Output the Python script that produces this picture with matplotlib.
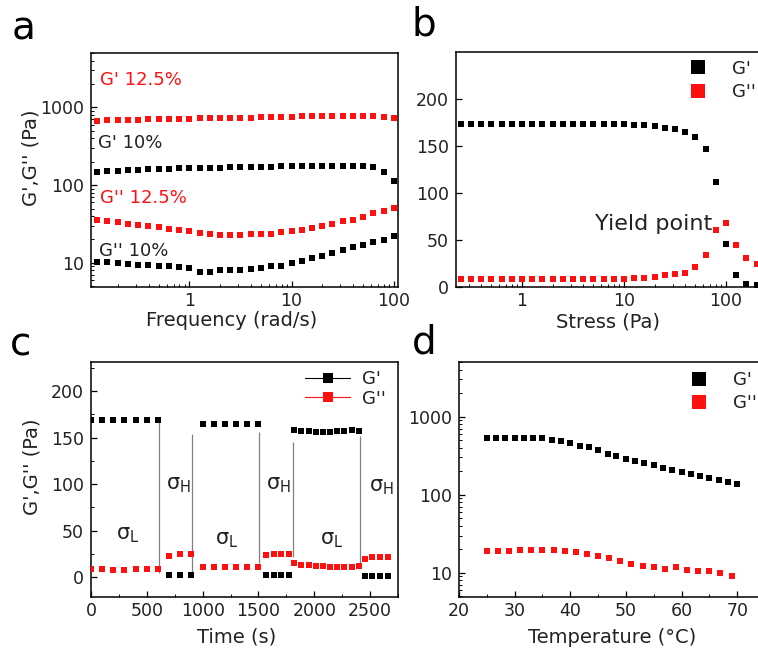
import matplotlib
matplotlib.use("Agg")
import matplotlib.pyplot as plt
from matplotlib.lines import Line2D
from matplotlib.ticker import LogLocator, NullFormatter, FuncFormatter, MultipleLocator

# ---- panel a: frequency sweep (10 % and 12.5 % gels) ----
freq = [0.126, 0.158, 0.2, 0.251, 0.316, 0.398, 0.501, 0.631, 0.794, 1.0,
        1.26, 1.58, 2.0, 2.51, 3.16, 3.98, 5.01, 6.31, 7.94, 10.0,
        12.6, 15.8, 20.0, 25.1, 31.6, 39.8, 50.1, 63.1, 79.4, 100.0]
gp_125 = [675, 680, 685, 690, 695, 700, 705, 708, 712, 716,
          720, 725, 728, 732, 736, 740, 745, 750, 755, 760,
          765, 770, 772, 775, 775, 775, 772, 768, 760, 735]
gp_10 = [149, 151, 153, 155, 157, 159, 161, 163, 164, 165,
         166, 167, 168, 169, 170, 171, 172, 173, 174, 176,
         177, 178, 178, 178, 178, 177, 175, 170, 146, 114]
gpp_125 = [36, 35, 33.5, 32, 31, 29.7, 28.8, 27.4, 26.7, 26,
           24.3, 23.6, 23.1, 23, 23, 23.5, 23.8, 23.8, 24.8, 25.5,
           26.3, 27.7, 29.7, 32.1, 34.3, 36.1, 39.2, 43.3, 46.3, 50.2]
gpp_10 = [10.4, 10.2, 9.9, 9.7, 9.5, 9.3, 9.1, 9.0, 8.8, 8.6,
          7.7, 7.6, 8.2, 8.2, 8.1, 8.3, 8.6, 9.0, 9.1, 9.9,
          10.6, 11.5, 12.3, 13.4, 14.5, 16.0, 17.1, 18.4, 19.9, 22.0]

# ---- panel b: stress sweep ----
stress = [0.251, 0.316, 0.398, 0.501, 0.631, 0.794, 1.0, 1.26, 1.58, 2.0,
          2.51, 3.16, 3.98, 5.01, 6.31, 7.94, 10.0, 12.6, 15.8, 20.0,
          25.1, 31.6, 39.8, 50.1, 63.1, 79.4, 100.0, 126, 158, 200]
gp_stress = [173, 173, 173, 173, 173, 173, 173, 173, 173, 173,
             173, 173, 173, 173, 173, 173, 173, 172.5, 172, 171,
             169, 168, 165, 160, 147, 112, 46, 13, 3, 2]
gpp_stress = [8.5, 8.5, 8.5, 8.5, 8.5, 8.5, 8.5, 9, 8.5, 8.5,
              8.5, 8.5, 8.5, 8.5, 8.5, 8.5, 9, 10, 10, 11,
              12.5, 13.5, 15, 21, 34, 61, 68, 45, 31, 24]

# ---- panel c: step strain recovery ----
t_step = [0, 100, 200, 300, 400, 500, 600,
          700, 800, 900,
          1000, 1100, 1200, 1300, 1400, 1500,
          1565, 1635, 1705, 1775,
          1820, 1885, 1950, 2015, 2080, 2140, 2205, 2270, 2335, 2400,
          2450, 2520, 2590, 2660]
gp_step = [169, 169, 169, 169, 169, 169, 169,
           2.5, 3, 3,
           164, 164, 164, 164, 165, 164,
           3, 3, 3, 3,
           158, 157, 157, 156, 156, 156, 157, 157, 158, 157,
           2, 2, 2, 2]
gpp_step = [8.6, 8.6, 7.5, 8, 8.6, 8.6, 9.5,
            23, 25, 25,
            11.5, 11.5, 11.5, 11.5, 11.5, 11.5,
            24, 25.5, 25.5, 25,
            15, 13.5, 13, 12.5, 12.5, 11.5, 11.5, 11.5, 11.5, 12.5,
            19.5, 22, 22, 21.5]
switch_t = [606, 906, 1503, 1811, 2409]
switch_lo = [5, 3, 15, 22, 13]
switch_hi = [169, 154, 156, 145, 152]
sigma_labels = [r"$\mathrm{\sigma}_\mathrm{L}$", r"$\mathrm{\sigma}_\mathrm{H}$",
                r"$\mathrm{\sigma}_\mathrm{L}$", r"$\mathrm{\sigma}_\mathrm{H}$",
                r"$\mathrm{\sigma}_\mathrm{L}$", r"$\mathrm{\sigma}_\mathrm{H}$"]
sigma_t = [333, 780, 1217, 1675, 2152, 2603]
sigma_y = [46, 99, 40, 99, 40, 97]

# ---- panel d: temperature sweep ----
temp_gp = [25, 26.7, 28.3, 30, 31.7, 33.3, 35, 36.7, 38.3, 40,
           41.7, 43.3, 45, 46.7, 48.3, 50, 51.7, 53.3, 55, 56.7,
           58.3, 60, 61.7, 63.3, 65, 66.7, 68.3, 70]
gp_temp = [535, 535, 535, 535, 535, 530, 525, 505, 480, 457,
           425, 408, 377, 335, 310, 290, 270, 254, 238, 222,
           209, 196, 183, 172, 164, 153, 146, 138]
temp_gpp = [25, 27, 29, 31, 33, 35, 37, 39, 41, 43,
            45, 47, 49, 51, 53, 55, 57, 59, 61, 63,
            65, 67, 69]
gpp_temp = [19.2, 19.2, 19.2, 19.5, 19.5, 19.5, 19.5, 19.2, 18.7, 17.3,
            16.5, 15.4, 14.3, 13.0, 12.4, 12.0, 11.2, 11.8, 10.9, 10.4,
            10.7, 9.9, 9.2]

RED = "#ff1010"
TXT = "#222222"
MS = 4.8

W, H = 758, 652
fig = plt.figure(figsize=(W / 100, H / 100), dpi=100)


def add_axes_px(left, top, right, bottom):
    return fig.add_axes([left / W, 1 - bottom / H, (right - left) / W, (bottom - top) / H])


def style(ax):
    for s in ax.spines.values():
        s.set_linewidth(1.1)
    ax.tick_params(which="both", direction="in", top=False, right=False,
                   labelsize=12.5, labelcolor=TXT)
    ax.tick_params(which="major", length=4, width=0.9, pad=5)
    ax.tick_params(axis="x", which="major", pad=3.5)
    ax.tick_params(which="minor", length=2, width=0.7)


plain = FuncFormatter(lambda v, p: f"{v:g}")


def log_axis(axis):
    axis.set_major_formatter(plain)
    axis.set_minor_locator(LogLocator(base=10, subs=range(2, 10), numticks=20))
    axis.set_minor_formatter(NullFormatter())


def sq(ax, x, y, color):
    ax.plot(x, y, ls="none", marker="s", ms=MS, mew=0, color=color, zorder=3)


# ---------------- a ----------------
ax = add_axes_px(91, 53, 398, 287)
style(ax)
ax.set_xscale("log")
ax.set_yscale("log")
sq(ax, freq, gp_125, RED)
sq(ax, freq, gp_10, "black")
sq(ax, freq, gpp_125, RED)
sq(ax, freq, gpp_10, "black")
ax.set_xlim(0.109, 110)
ax.set_ylim(4.9, 5000)
ax.set_xticks([1, 10, 100])
ax.set_yticks([10, 100, 1000])
log_axis(ax.xaxis)
log_axis(ax.yaxis)
ax.text(0.029, 0.863, "G' 12.5%", color=RED, fontsize=13, transform=ax.transAxes, va="baseline")
ax.text(0.023, 0.594, "G' 10%", color=TXT, fontsize=13, transform=ax.transAxes, va="baseline")
ax.text(0.029, 0.359, "G'' 12.5%", color=RED, fontsize=13, transform=ax.transAxes, va="baseline")
ax.text(0.025, 0.132, "G'' 10%", color=TXT, fontsize=13, transform=ax.transAxes, va="baseline")
ax.set_xlabel("Frequency (rad/s)", fontsize=14, color=TXT)
ax.set_ylabel("G',G'' (Pa)", fontsize=14, color=TXT)
ax.xaxis.set_label_coords(0.459, -0.102)
ax.yaxis.set_label_coords(-0.166, 0.551)

# ---------------- b ----------------
ax = add_axes_px(456, 52, 761, 287)
style(ax)
ax.set_xscale("log")
sq(ax, stress, gp_stress, "black")
sq(ax, stress, gpp_stress, RED)
ax.set_xlim(0.225, 220)
ax.set_ylim(0, 250)
ax.set_xticks([1, 10, 100])
ax.set_yticks([0, 50, 100, 150, 200])
log_axis(ax.xaxis)
ax.text(0.839, 0.266, "Yield point", fontsize=16, color=TXT, ha="right", va="center",
        transform=ax.transAxes)
ax.set_xlabel("Stress (Pa)", fontsize=14, color=TXT)
ax.xaxis.set_label_coords(0.498, -0.11)
hb = [Line2D([], [], ls="none", marker="s", ms=9.5, mew=0, color="black"),
      Line2D([], [], ls="none", marker="s", ms=9.5, mew=0, color=RED)]
ax.legend(hb, ["G'", "G''"], loc="upper left", bbox_to_anchor=(689 / W, 1 - 59.5 / H),
          bbox_transform=fig.transFigure, frameon=False, fontsize=13, labelcolor=TXT,
          numpoints=1, handlelength=1.0, handletextpad=1.4, labelspacing=0.33,
          borderpad=0, borderaxespad=0)

# ---------------- c ----------------
ax = add_axes_px(91, 362, 398, 597)
style(ax)
ax.vlines(switch_t, switch_lo, switch_hi, colors="#808080", lw=0.9, zorder=2)
sq(ax, t_step, gp_step, "black")
sq(ax, t_step, gpp_step, RED)
for lab, tx, ty in zip(sigma_labels, sigma_t, sigma_y):
    ax.text(tx, ty, lab, fontsize=15, color=TXT, ha="center", va="center")
ax.set_xlim(0, 2750)
ax.set_ylim(-21, 231)
ax.set_xticks([0, 500, 1000, 1500, 2000, 2500])
ax.set_yticks([0, 50, 100, 150, 200])
ax.xaxis.set_minor_locator(MultipleLocator(250))
ax.yaxis.set_minor_locator(MultipleLocator(25))
ax.set_xlabel("Time (s)", fontsize=14, color=TXT)
ax.set_ylabel("G',G'' (Pa)", fontsize=14, color=TXT)
ax.xaxis.set_label_coords(0.475, -0.13)
ax.yaxis.set_label_coords(-0.16, 0.554)
hc = [Line2D([], [], lw=0.8, marker="s", ms=7.7, mew=0, color="black"),
      Line2D([], [], lw=0.8, marker="s", ms=7.7, mew=0, color=RED)]
ax.legend(hc, ["G'", "G''"], loc="upper left", bbox_to_anchor=(305 / W, 1 - 370 / H),
          bbox_transform=fig.transFigure, frameon=False, fontsize=13, labelcolor=TXT,
          numpoints=1, handlelength=2.5, handletextpad=0.65, labelspacing=0.1,
          borderpad=0, borderaxespad=0)

# ---------------- d ----------------
ax = add_axes_px(459, 362, 765, 597)
style(ax)
ax.set_yscale("log")
sq(ax, temp_gp, gp_temp, "black")
sq(ax, temp_gpp, gpp_temp, RED)
ax.set_xlim(20, 75)
ax.set_ylim(4.9, 5000)
ax.set_xticks([20, 30, 40, 50, 60, 70])
ax.xaxis.set_minor_locator(MultipleLocator(5))
ax.set_yticks([10, 100, 1000])
log_axis(ax.yaxis)
ax.set_xlabel("Temperature (°C)", fontsize=14, color=TXT)
ax.xaxis.set_label_coords(0.5, -0.13)
ax.legend(hb, ["G'", "G''"], loc="upper left", bbox_to_anchor=(690 / W, 1 - 371 / H),
          bbox_transform=fig.transFigure, frameon=False, fontsize=13, labelcolor=TXT,
          numpoints=1, handlelength=1.0, handletextpad=1.4, labelspacing=0.3,
          borderpad=0, borderaxespad=0)

# panel letters
for letter, x, y in [("a", 12, 39), ("b", 411, 36), ("c", 10, 356), ("d", 412, 353)]:
    fig.text(x / W, 1 - y / H, letter, fontsize=28, color="black", ha="left", va="baseline")

fig.savefig("out.png", dpi=100)
